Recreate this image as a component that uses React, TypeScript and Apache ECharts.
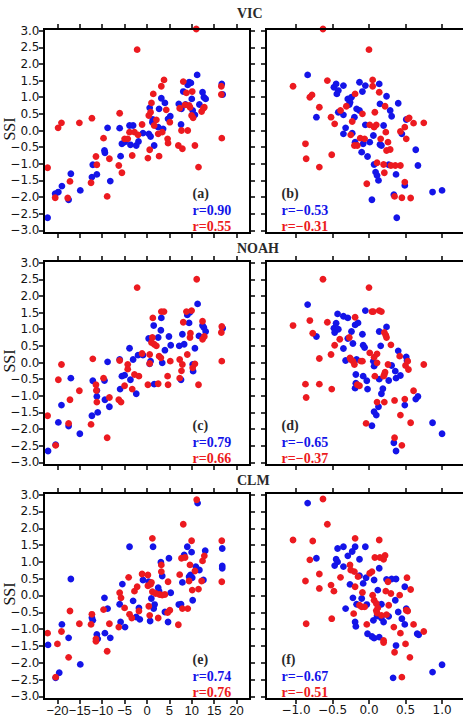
import React, { useEffect, useRef } from "react";
import * as echarts from "echarts";

// Precipitation anomaly (%) vs SSI, and temperature anomaly vs SSI, per land-surface model
const vicPrecipBlue = [[-22.2,-2.62],[-20.5,-1.9],[-19.8,-1.85],[-19.0,-1.67],[-17.5,-2.08],[-17.0,-1.3],[-14.9,-1.8],[-12.3,-1.4],[-12.1,-1.03],[-11.2,-1.32],[-9.5,-0.6],[-9.4,-0.67],[-8.8,0.08],[-8.2,-1.52],[-6.1,0.07],[-5.9,-0.77],[-5.6,-0.4],[-5.0,-0.35],[-3.9,0.15],[-3.1,0.15],[-3.7,-0.43],[-2.4,-0.45],[-1.9,-0.33],[-0.9,-0.08],[0.4,-0.1],[0.6,0.68],[0.8,-0.18],[1.2,0.25],[1.3,0.33],[1.6,-0.45],[2.5,0.1],[2.7,0.65],[3.2,0.97],[3.6,0.05],[4.0,0.83],[4.7,0.35],[5.2,0.43],[7.1,0.8],[7.6,0.18],[7.7,0.65],[8.1,1.17],[8.6,0.78],[9.1,1.37],[9.4,1.45],[9.8,1.43],[10.0,0.95],[10.2,0.6],[10.7,0.47],[11.2,1.67],[11.7,0.78],[12.4,1.15],[12.7,1.0],[13.1,0.95],[16.7,1.4],[16.9,1.08]];
const vicPrecipRed = [[-22.2,-1.12],[-20.5,-2.02],[-19.85,0.08],[-19.1,0.23],[-17.7,-2.03],[-17.2,-1.53],[-15.1,0.23],[-12.5,-1.57],[-12.3,0.37],[-11.4,-0.78],[-11.2,-1.03],[-9.7,-0.23],[-8.9,-1.98],[-8.4,-0.85],[-6.3,-1.05],[-5.6,-1.27],[-6.1,0.52],[-5.0,-0.25],[-4.3,-0.25],[-3.9,-0.05],[-3.3,-0.75],[-2.8,-0.05],[-2.2,2.43],[-2.0,-0.13],[-1.1,0.18],[0.2,-0.83],[0.4,0.45],[0.6,-0.58],[0.8,0.55],[1.0,0.83],[1.4,1.1],[1.6,0.15],[2.1,0.32],[2.5,-0.1],[2.7,-0.77],[3.2,1.33],[3.4,-0.05],[3.8,1.52],[4.3,0.62],[4.6,-0.25],[4.7,-0.38],[5.1,0.25],[7.0,-0.45],[7.3,0.67],[7.7,0.0],[7.9,-0.55],[8.1,1.47],[8.5,0.77],[8.8,1.13],[9.1,0.0],[9.4,0.75],[9.6,0.7],[9.96,0.45],[10.1,1.17],[10.3,0.38],[10.7,-0.45],[11.0,3.05],[11.5,-1.1],[12.2,0.57],[12.6,0.67],[12.8,0.7],[16.6,1.33],[16.6,1.08],[16.7,-0.23]];
const vicTempBlue = [[-0.84,1.67],[-0.72,0.4],[-0.48,1.3],[-0.45,1.4],[-0.42,1.2],[-0.44,1.1],[-0.35,1.35],[-0.42,0.55],[-0.35,0.47],[-0.32,0.08],[-0.29,0.95],[-0.27,0.78],[-0.26,0.85],[-0.24,1.0],[-0.35,-0.1],[-0.23,-0.08],[-0.2,0.4],[-0.19,-0.35],[-0.17,0.65],[-0.13,1.45],[-0.13,0.6],[-0.09,1.17],[-0.1,-0.65],[-0.08,-0.4],[-0.05,1.35],[-0.05,0.17],[-0.02,-0.78],[0.01,-0.35],[0.04,-2.08],[0.06,-0.15],[0.07,-1.02],[0.09,-1.25],[0.11,-1.35],[0.13,-1.5],[0.14,1.4],[0.15,0.8],[0.15,-0.42],[0.17,-0.45],[0.2,0.15],[0.24,1.03],[0.27,-1.03],[0.29,0.6],[0.31,0.43],[0.34,-1.93],[0.37,-1.32],[0.4,0.82],[0.38,-2.62],[0.45,-0.1],[0.49,-1.65],[0.51,0.33],[0.64,-0.58],[0.67,-1.05],[0.87,-1.85],[1.0,-1.8]];
const vicTempRed = [[-1.04,1.33],[-0.87,-0.4],[-0.86,-0.85],[-0.81,1.0],[-0.78,1.07],[-0.68,-1.1],[-0.68,0.7],[-0.63,3.05],[-0.57,1.5],[-0.52,0.4],[-0.51,-0.73],[-0.47,0.2],[-0.39,0.6],[-0.31,0.73],[-0.25,-0.13],[-0.23,0.27],[-0.2,-0.45],[-0.19,1.1],[-0.16,-0.45],[-0.12,-0.23],[-0.09,0.5],[-0.06,-0.25],[-0.03,-1.6],[0.0,2.43],[0.01,0.17],[0.05,1.33],[0.05,1.52],[0.07,0.1],[0.08,0.55],[0.1,0.17],[0.11,-0.97],[0.14,1.15],[0.16,-0.25],[0.2,-1.02],[0.22,0.73],[0.23,-0.05],[0.21,-1.27],[0.24,-0.6],[0.26,-0.35],[0.29,-0.57],[0.3,-1.05],[0.35,-1.98],[0.36,-1.05],[0.43,-1.05],[0.43,-0.03],[0.45,-2.02],[0.49,-1.55],[0.49,0.1],[0.51,-0.25],[0.53,0.35],[0.55,0.38],[0.57,-2.03],[0.61,0.22],[0.75,0.23]];

const noahPrecipBlue = [[-22.1,-2.66],[-20.4,-2.47],[-19.8,-1.8],[-19.1,-1.28],[-17.5,-1.91],[-17.0,-0.47],[-15.0,-2.14],[-12.3,-1.6],[-12.1,-0.55],[-11.2,-1.02],[-11.2,-0.84],[-11.0,-1.5],[-9.5,-0.54],[-9.4,-1.12],[-8.8,0.02],[-8.4,-1.33],[-6.1,0.09],[-6.0,-0.8],[-5.6,-0.41],[-5.0,-0.38],[-3.9,0.43],[-3.7,-0.52],[-3.1,0.09],[-2.4,-0.94],[-2.0,0.22],[-0.9,0.22],[0.37,0.72],[0.6,-0.04],[0.8,0.04],[1.5,1.11],[1.6,-0.65],[2.5,0.75],[3.1,0.97],[3.2,1.34],[3.4,-0.01],[4.0,0.37],[4.9,0.78],[5.3,0.52],[7.2,0.5],[7.6,-0.52],[7.9,0.85],[8.3,0.55],[9.0,1.43],[9.4,1.19],[9.6,1.51],[10.2,-0.06],[10.3,-0.26],[10.7,0.43],[11.3,1.76],[11.6,0.8],[12.4,1.11],[12.7,1.05],[13.1,0.93],[16.9,1.03]];
const noahPrecipRed = [[-22.2,-1.6],[-20.4,-2.49],[-19.8,-0.52],[-19.1,-0.06],[-17.5,-1.83],[-17.2,-1.12],[-15.1,-0.85],[-12.5,-1.86],[-12.1,0.11],[-11.4,-0.67],[-11.2,-1.19],[-11.3,-0.84],[-9.7,-0.47],[-8.9,-2.26],[-8.4,-1.05],[-6.3,-1.12],[-5.8,-1.19],[-6.1,0.06],[-5.0,-0.7],[-4.3,-0.06],[-4.3,-0.2],[-3.3,-0.8],[-2.8,-0.36],[-1.8,-0.41],[-2.2,2.25],[-1.1,0.27],[0.2,-0.67],[0.6,0.24],[0.6,-0.03],[1.0,0.6],[1.2,0.75],[1.3,1.34],[1.6,0.55],[2.1,0.5],[2.5,-0.64],[2.7,0.19],[3.1,0.14],[3.2,1.53],[3.8,1.53],[4.6,-0.41],[4.7,-0.67],[5.2,0.04],[7.3,0.09],[7.3,-0.47],[7.9,-0.06],[7.7,-0.25],[8.1,1.21],[8.8,1.53],[9.0,0.24],[9.6,0.75],[9.7,0.88],[9.96,1.56],[10.2,-0.16],[10.7,-0.04],[11.1,2.5],[11.5,-0.67],[12.4,0.7],[12.4,1.24],[12.8,0.78],[16.6,0.9],[16.7,1.08],[16.7,0.04]];
const noahTempBlue = [[-0.84,1.74],[-0.72,0.78],[-0.48,1.03],[-0.47,0.9],[-0.45,1.18],[-0.42,1.0],[-0.43,1.46],[-0.35,1.39],[-0.29,1.34],[-0.35,0.42],[-0.32,0.06],[-0.29,0.72],[-0.24,0.93],[-0.19,1.13],[-0.15,1.19],[-0.22,0.57],[-0.17,0.09],[-0.18,-0.36],[-0.19,-0.77],[-0.18,-0.62],[-0.09,0.85],[-0.08,0.52],[-0.06,0.45],[-0.08,-0.41],[-0.05,1.56],[-0.03,-0.55],[-0.02,-0.8],[0.04,-1.9],[0.06,0.04],[0.07,-0.11],[0.07,-1.48],[0.1,-1.58],[0.13,-1.33],[0.14,0.93],[0.14,-0.5],[0.16,0.5],[0.17,-0.94],[0.19,-0.79],[0.24,1.07],[0.27,-0.54],[0.31,-0.09],[0.34,-2.41],[0.36,-0.26],[0.37,-0.47],[0.37,-2.66],[0.4,0.35],[0.43,-0.39],[0.49,-1.28],[0.51,0.17],[0.52,0.06],[0.64,-1.1],[0.67,-1.02],[0.87,-1.81],[1.0,-2.14]];
const noahTempRed = [[-1.04,1.11],[-0.87,-0.65],[-0.86,-1.05],[-0.81,1.26],[-0.77,0.88],[-0.68,0.12],[-0.68,-0.65],[-0.63,2.5],[-0.57,1.21],[-0.52,0.24],[-0.51,-0.8],[-0.47,0.52],[-0.4,0.7],[-0.27,0.75],[-0.26,0.14],[-0.25,0.09],[-0.22,0.04],[-0.2,-0.06],[-0.19,1.36],[-0.16,-0.67],[-0.13,-0.7],[-0.11,0.04],[-0.09,0.04],[-0.04,-1.83],[0.0,2.25],[0.01,0.29],[0.04,1.53],[0.06,1.53],[0.07,0.16],[0.11,0.26],[0.08,-0.41],[0.11,-0.01],[0.14,1.56],[0.17,1.53],[0.2,-0.41],[0.21,-0.36],[0.22,-0.29],[0.21,0.9],[0.23,0.82],[0.24,0.75],[0.26,-0.06],[0.11,-1.19],[0.21,-1.19],[0.3,0.53],[0.35,-2.26],[0.35,-1.14],[0.42,0.19],[0.43,-1.58],[0.45,-2.49],[0.49,-1.1],[0.5,-0.09],[0.53,0.04],[0.54,-0.21],[0.57,-1.81],[0.61,-0.85],[0.75,-0.06]];

const clmPrecipBlue = [[-22.1,-1.47],[-20.4,-2.45],[-19.6,-2.3],[-19.0,-0.86],[-17.5,-1.26],[-17.0,0.49],[-14.9,-2.05],[-12.3,-0.66],[-12.1,-0.74],[-11.2,-1.16],[-11.0,-1.29],[-9.5,-0.07],[-9.4,-1.12],[-8.8,-0.39],[-8.2,-1.26],[-6.1,-0.26],[-5.9,-0.79],[-5.5,0.34],[-4.9,-0.94],[-3.9,1.45],[-3.1,-0.16],[-2.4,-0.64],[-1.8,-0.37],[-1.6,-0.71],[-0.9,0.46],[0.37,0.41],[0.7,-0.76],[0.97,-0.09],[1.35,1.45],[1.5,-0.39],[1.7,-0.27],[2.5,0.23],[2.7,0.13],[3.1,0.99],[3.4,0.58],[4.0,-0.49],[4.7,-0.79],[4.9,1.11],[5.3,0.08],[7.1,-0.27],[7.6,-0.26],[7.9,0.39],[8.3,1.21],[9.0,1.45],[9.4,0.56],[9.7,0.61],[9.96,1.29],[10.1,0.53],[10.2,-0.14],[10.9,0.86],[11.3,2.75],[11.7,0.76],[12.6,0.46],[13.0,1.33],[16.8,1.4],[16.8,0.88],[16.8,0.81]];
const clmPrecipRed = [[-22.2,-1.12],[-20.0,-1.44],[-20.4,-2.43],[-19.1,-1.07],[-17.5,-1.84],[-17.2,-0.46],[-15.1,-0.84],[-12.5,-0.86],[-12.3,-0.56],[-11.4,-1.36],[-11.4,-1.29],[-9.7,-0.42],[-8.9,-1.66],[-8.4,-0.84],[-6.3,-0.94],[-6.1,0.08],[-5.8,-0.07],[-5.0,-0.37],[-4.1,0.54],[-3.9,-0.56],[-3.4,-0.67],[-2.8,0.13],[-2.2,0.26],[-1.8,-0.46],[-1.1,0.64],[0.2,0.61],[0.2,0.29],[0.4,-0.32],[0.6,-0.59],[0.8,0.33],[1.0,0.39],[1.2,1.7],[1.2,0.11],[1.96,0.06],[2.5,-0.67],[2.8,0.03],[3.2,0.71],[3.2,0.91],[3.4,0.01],[4.0,0.03],[4.6,-0.51],[4.7,0.41],[5.1,-0.44],[7.0,-0.87],[7.3,0.62],[7.7,1.11],[8.1,2.12],[7.9,-0.39],[8.5,1.13],[9.1,-0.39],[9.4,0.43],[9.6,0.91],[9.96,1.63],[10.1,0.16],[10.7,0.73],[11.1,2.85],[11.5,0.19],[12.2,0.43],[12.4,1.03],[12.8,1.18],[16.7,1.63],[16.7,0.41]];
const clmTempBlue = [[-0.84,2.75],[-0.72,1.11],[-0.45,1.08],[-0.43,1.0],[-0.47,0.89],[-0.43,1.4],[-0.35,1.45],[-0.35,0.86],[-0.32,-0.39],[-0.29,1.18],[-0.26,0.33],[-0.23,1.31],[-0.19,1.45],[-0.22,-0.07],[-0.19,-0.79],[-0.18,-0.92],[-0.17,-0.26],[-0.13,1.08],[-0.13,0.59],[-0.1,-0.09],[-0.08,0.36],[-0.05,1.45],[-0.04,0.53],[-0.03,-0.27],[-0.02,-1.14],[0.04,-1.22],[0.06,-0.74],[0.07,-1.27],[0.07,0.46],[0.11,-0.61],[0.12,0.16],[0.14,0.81],[0.14,-1.24],[0.17,-0.26],[0.17,-0.67],[0.2,-0.79],[0.24,0.48],[0.27,-0.62],[0.31,0.49],[0.37,0.49],[0.33,-2.45],[0.36,-0.14],[0.37,-1.49],[0.4,-0.49],[0.45,-0.69],[0.49,0.26],[0.49,-0.86],[0.51,-0.39],[0.66,-1.14],[0.68,-1.17],[0.87,-2.28],[1.0,-2.06]];
const clmTempRed = [[-1.04,1.65],[-0.87,0.43],[-0.86,-0.84],[-0.81,1.06],[-0.77,1.62],[-0.68,0.64],[-0.68,0.21],[-0.63,2.87],[-0.57,2.12],[-0.52,0.31],[-0.51,-0.69],[-0.48,0.13],[-0.39,0.54],[-0.26,0.91],[-0.25,0.76],[-0.2,0.71],[-0.19,1.7],[-0.21,-0.54],[-0.19,0.26],[-0.15,0.56],[-0.13,-0.29],[-0.1,-0.34],[-0.09,0.09],[-0.06,-0.34],[-0.03,-0.86],[0.01,0.66],[0.04,0.71],[0.05,0.01],[0.07,-0.14],[0.1,-0.24],[0.08,1.13],[0.1,-0.45],[0.11,-0.52],[0.12,-0.37],[0.14,1.65],[0.15,1.13],[0.17,-0.59],[0.2,1.08],[0.22,1.19],[0.2,-1.34],[0.2,-1.4],[0.23,0.13],[0.26,0.41],[0.24,-0.57],[0.27,-0.29],[0.3,0.06],[0.34,-0.94],[0.35,-1.69],[0.42,0.01],[0.43,-1.12],[0.45,-2.43],[0.5,-1.44],[0.51,-0.44],[0.53,-0.46],[0.52,0.53],[0.56,-1.84],[0.57,0.18],[0.61,-0.86],[0.75,-1.07]];

const modelNames = ["VIC", "NOAH", "CLM"];
const panelTags = ["(a)", "(b)", "(c)", "(d)", "(e)", "(f)"];
const corrBlue = [0.90, -0.53, 0.79, -0.65, 0.74, -0.67];
const corrRed = [0.55, -0.31, 0.66, -0.37, 0.76, -0.51];
const precipTicks = [-20, -15, -10, -5, 0, 5, 10, 15, 20];
const tempTicks = [-1.0, -0.5, 0.0, 0.5, 1.0];
const ssiTicks = [-3.0, -2.5, -2.0, -1.5, -1.0, -0.5, 0.0, 0.5, 1.0, 1.5, 2.0, 2.5, 3.0];

const BLUE = "#1414e8";
const RED = "#ec1a20";
const INK = "#000000";

const colLeft = [44, 266];
const gridW = 206;
const rowTop = [29, 261, 493];
const rowH = [204, 204, 206];

const minus = (s: string) => s.replace("-", "\u2212");
const fmtInt = (v: number) => minus(String(Math.round(v)));
const fmt1 = (v: number) => minus(v.toFixed(1));
const fmt2 = (v: number) => minus(v.toFixed(2));

function buildOption() {
  const data = [
    [vicPrecipBlue, vicPrecipRed], [vicTempBlue, vicTempRed],
    [noahPrecipBlue, noahPrecipRed], [noahTempBlue, noahTempRed],
    [clmPrecipBlue, clmPrecipRed], [clmTempBlue, clmTempRed],
  ];
  const grid: any[] = [];
  const xAxis: any[] = [];
  const yAxis: any[] = [];
  const series: any[] = [];
  const graphic: any[] = [];

  const tickStyle = { color: INK, width: 1.5 };
  const yFont = { fontFamily: "DejaVu Sans", fontSize: 12, color: "#141414" };
  const xFontPrecip = { fontFamily: "Liberation Sans", fontSize: 13, color: "#141414" };
  const xFontTemp = { fontFamily: "DejaVu Sans", fontSize: 12, color: "#141414" };

  for (let i = 0; i < 6; i++) {
    const row = Math.floor(i / 2);
    const col = i % 2;
    const top = rowTop[row];
    const h = rowH[row];
    const left = colLeft[col];
    grid.push({ left, top, width: gridW, height: h, outerBoundsMode: "none", containLabel: false });

    // panel frame, drawn as four 2px edges
    const edges = [
      [[left - 1, top], [left + gridW + 1, top]],
      [[left - 1, top + h], [left + gridW + 1, top + h]],
      [[left, top - 1], [left, top + h + 1]],
      [[left + gridW, top - 1], [left + gridW, top + h + 1]],
    ];
    edges.forEach(([p, q]) =>
      graphic.push({
        type: "line", silent: true, z: 5,
        shape: { x1: p[0], y1: p[1], x2: q[0], y2: q[1] },
        style: { stroke: INK, lineWidth: 2 },
      })
    );

    const isPrecip = col === 0;
    const xTicks = isPrecip ? precipTicks : tempTicks;
    const xMin = isPrecip ? -23 : -1.41;
    const xMax = isPrecip ? 23 : 1.41;
    const xFmt = isPrecip ? fmtInt : fmt1;

    const baseX = {
      type: "value", gridIndex: i, min: xMin, max: xMax,
      splitLine: { show: false },
      axisLine: { show: false, onZero: false },
      axisTick: { show: true, inside: false, length: 5, lineStyle: tickStyle, customValues: xTicks },
    };
    xAxis.push({
      ...baseX, position: "bottom",
      axisLabel: {
        show: row === 2, margin: 5, formatter: xFmt, customValues: xTicks,
        hideOverlap: false, showMinLabel: true, showMaxLabel: true,
        ...(isPrecip ? xFontPrecip : xFontTemp),
      },
    });
    xAxis.push({ ...baseX, position: "top", axisLabel: { show: false, customValues: xTicks } });

    const baseY = {
      type: "value", gridIndex: i, min: -3.08, max: 3.05,
      splitLine: { show: false },
      axisLine: { show: false, onZero: false },
      axisTick: { show: true, inside: false, length: 5, lineStyle: tickStyle, customValues: ssiTicks },
    };
    yAxis.push({
      ...baseY, position: "left",
      axisLabel: {
        show: col === 0, margin: 4.5, formatter: fmt1, customValues: ssiTicks,
        hideOverlap: false, showMinLabel: true, showMaxLabel: true, ...yFont,
      },
    });
    yAxis.push({ ...baseY, position: "right", axisLabel: { show: false, customValues: ssiTicks } });

    const [blue, red] = data[i];
    series.push({
      type: "scatter", xAxisIndex: 2 * i, yAxisIndex: 2 * i, data: blue,
      symbolSize: 6.8, itemStyle: { color: BLUE, opacity: 1 }, clip: false, silent: true,
    });
    series.push({
      type: "scatter", xAxisIndex: 2 * i, yAxisIndex: 2 * i, data: red,
      symbolSize: 6.8, itemStyle: { color: RED, opacity: 1 }, clip: false, silent: true,
    });

    // panel tag and correlation coefficients
    const tx = col === 0 ? 192.5 : 281.5;
    const bottom = top + h;
    const annot = [
      { text: panelTags[i], fill: "#2a2a2a", dy: -39.5 },
      { text: "r=" + fmt2(corrBlue[i]), fill: BLUE, dy: -23 },
      { text: "r=" + fmt2(corrRed[i]), fill: RED, dy: -7 },
    ];
    annot.forEach((a) =>
      graphic.push({
        type: "text", x: tx, y: bottom + a.dy, silent: true, z: 6,
        style: {
          text: a.text, fill: a.fill, font: 'bold 14px "Liberation Serif"',
          align: "left", verticalAlign: "middle", textAlign: "left", textVerticalAlign: "middle",
        },
      })
    );

    if (col === 0) {
      graphic.push({
        type: "text", x: 9, y: top + h / 2 - 2, rotation: Math.PI / 2, silent: true,
        style: {
          text: "SSI", fill: "#141414", font: '16px "Liberation Serif"', lineHeight: 14,
          align: "center", verticalAlign: "middle", textAlign: "center", textVerticalAlign: "middle",
        },
      });
    }
  }

  const titleY = [13, 248, 480];
  modelNames.forEach((name, r) =>
    graphic.push({
      type: "text", x: 237, y: titleY[r], silent: true,
      style: {
        text: name, fill: "#2a2a2a", font: 'bold 14px "Liberation Serif"',
        align: "left", verticalAlign: "middle", textAlign: "left", textVerticalAlign: "middle",
      },
    })
  );

  return {
    animation: false,
    backgroundColor: "#ffffff",
    grid, xAxis, yAxis, series, graphic,
  };
}

export default function App() {
  const ref = useRef<HTMLDivElement>(null);
  useEffect(() => {
    const chart = echarts.init(ref.current!, null, { renderer: "svg" });
    chart.setOption(buildOption() as any);
    return () => chart.dispose();
  }, []);
  return (
    <div style={{ position: "absolute", left: 0, top: 0, width: 463, height: 719, overflow: "hidden", background: "#fff" }}>
      <div ref={ref} style={{ width: 480, height: 719 }} />
    </div>
  );
}
